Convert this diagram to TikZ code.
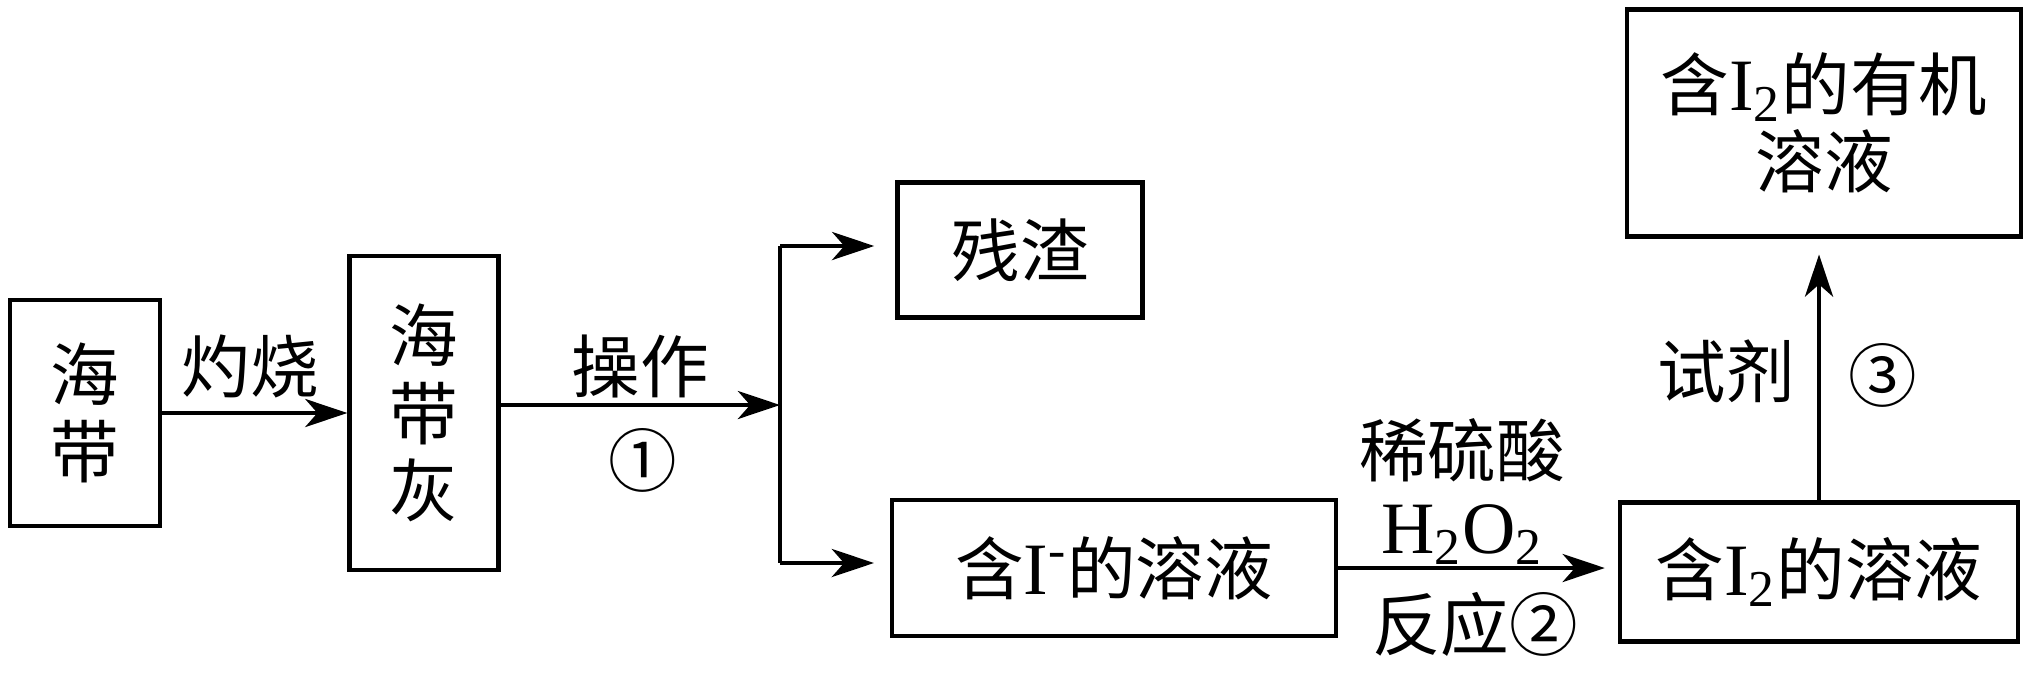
\documentclass[tikz,border=0pt]{standalone}
\usepackage{fontspec}
\setmainfont{Noto Sans CJK SC}
\newfontfamily\lat{Liberation Serif}
\usetikzlibrary{arrows.meta}

\begin{document}
\begin{tikzpicture}[x=0.01cm,y=-0.01cm,font=\fontsize{19.5}{22}\selectfont,
  box/.style={draw,line width=1.2pt,inner sep=0pt,align=center},
  arr/.style={line width=1.1pt,-{Stealth[length=12pt,width=8pt,inset=3.5pt]}},
  lbl/.style={inner sep=0pt}]
\useasboundingbox (0,0) rectangle (2033,675);
% boxes
\node[box,minimum width=1.50cm,minimum height=2.26cm] (haidai) at (85,413) {海\\带};
\node[box,minimum width=1.49cm,minimum height=3.14cm] (haidaihui) at (424,413) {海\\带\\灰};
\node[box,minimum width=2.45cm,minimum height=1.35cm] (canzha) at (1020,250) {残渣};
\node[box,minimum width=4.44cm,minimum height=1.36cm] (hanI) at (1114,568) {含{\lat\fontsize{21}{22}\selectfont I\textsuperscript{-}}的溶液};
\node[box,minimum width=3.98cm,minimum height=1.39cm] (hanII) at (1819,572) {含{\lat\fontsize{21}{22}\selectfont I\textsubscript{2}}的溶液};
\node[box,minimum width=3.94cm,minimum height=2.27cm] (youji) at (1824,123) {含{\lat\fontsize{21}{22}\selectfont I\textsubscript{2}}的有机\\溶液};
% labels
\node[lbl] (zhuoshao) at (250,366) {灼烧};
\node[lbl] (caozuo) at (640,366) {操作};
\node[lbl] (one) at (643,460) {①};
\node[lbl] (xiliusuan) at (1462,450) {稀硫酸};
\node[lbl] (hho) at (1462,535) {\lat\fontsize{21}{22}\selectfont H\textsubscript{2}O\textsubscript{2}};
\node[lbl] (fanying) at (1475,624) {反应②};
\node[lbl] (shiji) at (1726,371) {试剂};
\node[lbl] (three) at (1883,375) {③};
% connectors
\coordinate (fork) at (780,405);
\coordinate (up) at (780,246);
\coordinate (dn) at (780,563);
\draw[arr] (haidai.east) -- (haidai.east -| haidaihui.west);
\draw[arr] (haidaihui.east |- fork) -- (fork);
\draw[line width=1.1pt] (up) -- (dn);
\draw[arr,shorten >=6pt] (up) -- (up -| canzha.west);
\draw[arr,shorten >=4.5pt] (dn) -- (dn -| hanI.west);
\draw[arr,shorten >=3.7pt] (hanI.east) -- (hanI.east -| hanII.west);
\draw[arr,shorten >=4.5pt] (hanII.north) -- (hanII.north |- youji.south);
\end{tikzpicture}
\end{document}
